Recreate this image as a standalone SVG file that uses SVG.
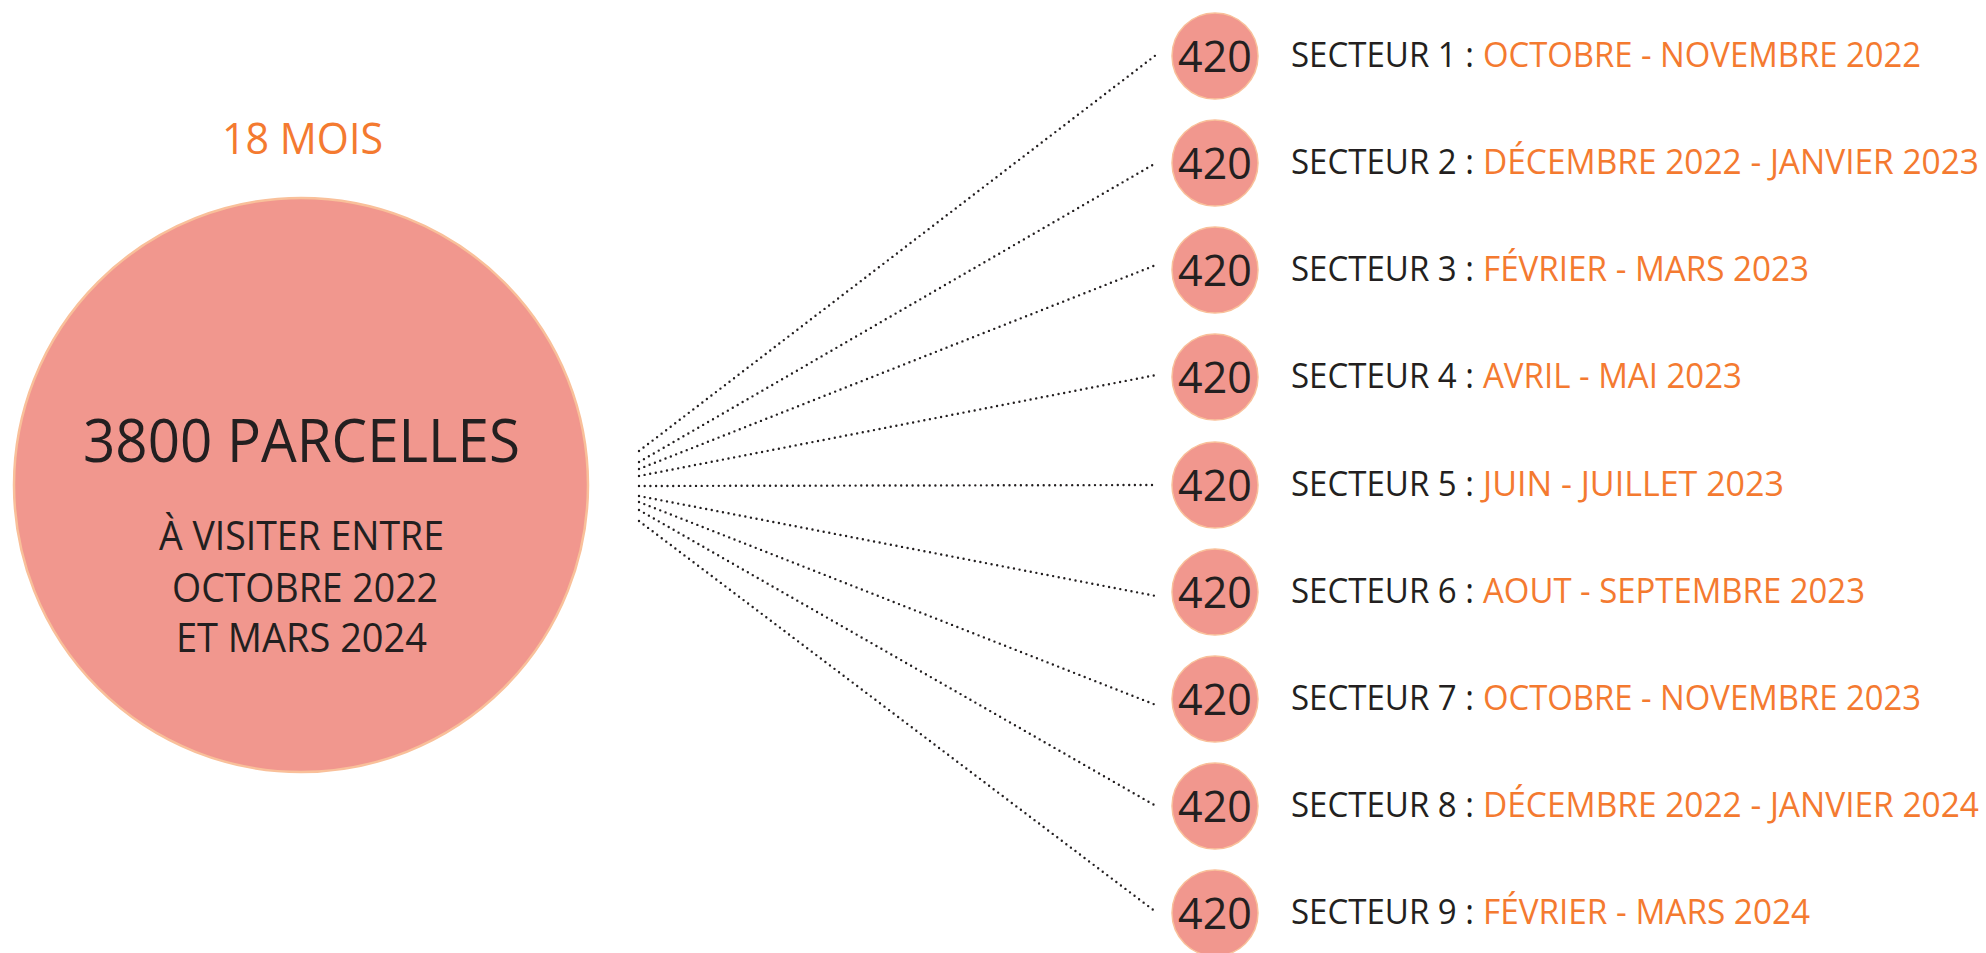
<svg xmlns="http://www.w3.org/2000/svg" width="1986" height="953" viewBox="0 0 1986 953">
<style>
.t{font-family:"Open Sans","Liberation Sans",sans-serif;}
.dk{fill:#231F20;}
.or{fill:#F47A30;}
.big{fill:#F1978E;stroke:#F9C09A;stroke-width:2.5;}
.sm{fill:#F1978E;stroke:#F9C09A;stroke-width:1.5;}
.dot{fill:none;stroke:#231F20;stroke-width:2.4;stroke-linecap:round;stroke-dasharray:0 5.7;}
.num{font-size:43px;text-anchor:middle;}
.lab{font-size:34px;}
</style>
<rect width="1986" height="953" fill="#FFFFFF"/>
<g id="connectors">
<line class="dot" x1="639" y1="451" x2="1156" y2="55"/>
<line class="dot" x1="639" y1="462" x2="1156" y2="163"/>
<line class="dot" x1="639" y1="469" x2="1156" y2="265"/>
<line class="dot" x1="639" y1="476" x2="1156" y2="375"/>
<line class="dot" x1="639" y1="486" x2="1156" y2="485"/>
<line class="dot" x1="639" y1="496" x2="1156" y2="596"/>
<line class="dot" x1="639" y1="502" x2="1156" y2="705"/>
<line class="dot" x1="639" y1="510" x2="1156" y2="806"/>
<line class="dot" x1="639" y1="521" x2="1156" y2="912"/>
</g>
<g id="main">
<text class="t or" x="222" y="154" font-size="44" textLength="161" lengthAdjust="spacingAndGlyphs">18 MOIS</text>
<circle class="big" cx="301" cy="485" r="287"/>
<text class="t dk" x="83" y="462" font-size="61" textLength="437" lengthAdjust="spacingAndGlyphs">3800 PARCELLES</text>
<text class="t dk" x="159" y="550" font-size="40" textLength="285" lengthAdjust="spacingAndGlyphs">À VISITER ENTRE</text>
<text class="t dk" x="172" y="602" font-size="40" textLength="266" lengthAdjust="spacingAndGlyphs">OCTOBRE 2022</text>
<text class="t dk" x="176" y="652" font-size="40" textLength="251" lengthAdjust="spacingAndGlyphs">ET MARS 2024</text>
</g>
<g id="s1"><circle class="sm" cx="1215" cy="56" r="43"/><text class="t dk num" x="1215" y="72">420</text><text class="t dk lab" x="1291" y="67" textLength="183" lengthAdjust="spacingAndGlyphs">SECTEUR 1 :</text><text class="t or lab" x="1483" y="67" textLength="438" lengthAdjust="spacingAndGlyphs">OCTOBRE - NOVEMBRE 2022</text></g>
<g id="s2"><circle class="sm" cx="1215" cy="163" r="43"/><text class="t dk num" x="1215" y="179">420</text><text class="t dk lab" x="1291" y="174" textLength="183" lengthAdjust="spacingAndGlyphs">SECTEUR 2 :</text><text class="t or lab" x="1483" y="174" textLength="496" lengthAdjust="spacingAndGlyphs">DÉCEMBRE 2022 - JANVIER 2023</text></g>
<g id="s3"><circle class="sm" cx="1215" cy="270" r="43"/><text class="t dk num" x="1215" y="286">420</text><text class="t dk lab" x="1291" y="281" textLength="183" lengthAdjust="spacingAndGlyphs">SECTEUR 3 :</text><text class="t or lab" x="1483" y="281" textLength="326" lengthAdjust="spacingAndGlyphs">FÉVRIER - MARS 2023</text></g>
<g id="s4"><circle class="sm" cx="1215" cy="377" r="43"/><text class="t dk num" x="1215" y="393">420</text><text class="t dk lab" x="1291" y="388" textLength="183" lengthAdjust="spacingAndGlyphs">SECTEUR 4 :</text><text class="t or lab" x="1483" y="388" textLength="259" lengthAdjust="spacingAndGlyphs">AVRIL - MAI 2023</text></g>
<g id="s5"><circle class="sm" cx="1215" cy="485" r="43"/><text class="t dk num" x="1215" y="501">420</text><text class="t dk lab" x="1291" y="496" textLength="183" lengthAdjust="spacingAndGlyphs">SECTEUR 5 :</text><text class="t or lab" x="1483" y="496" textLength="301" lengthAdjust="spacingAndGlyphs">JUIN - JUILLET 2023</text></g>
<g id="s6"><circle class="sm" cx="1215" cy="592" r="43"/><text class="t dk num" x="1215" y="608">420</text><text class="t dk lab" x="1291" y="603" textLength="183" lengthAdjust="spacingAndGlyphs">SECTEUR 6 :</text><text class="t or lab" x="1483" y="603" textLength="382" lengthAdjust="spacingAndGlyphs">AOUT - SEPTEMBRE 2023</text></g>
<g id="s7"><circle class="sm" cx="1215" cy="699" r="43"/><text class="t dk num" x="1215" y="715">420</text><text class="t dk lab" x="1291" y="710" textLength="183" lengthAdjust="spacingAndGlyphs">SECTEUR 7 :</text><text class="t or lab" x="1483" y="710" textLength="438" lengthAdjust="spacingAndGlyphs">OCTOBRE - NOVEMBRE 2023</text></g>
<g id="s8"><circle class="sm" cx="1215" cy="806" r="43"/><text class="t dk num" x="1215" y="822">420</text><text class="t dk lab" x="1291" y="817" textLength="183" lengthAdjust="spacingAndGlyphs">SECTEUR 8 :</text><text class="t or lab" x="1483" y="817" textLength="496" lengthAdjust="spacingAndGlyphs">DÉCEMBRE 2022 - JANVIER 2024</text></g>
<g id="s9"><circle class="sm" cx="1215" cy="913" r="43"/><text class="t dk num" x="1215" y="929">420</text><text class="t dk lab" x="1291" y="924" textLength="183" lengthAdjust="spacingAndGlyphs">SECTEUR 9 :</text><text class="t or lab" x="1483" y="924" textLength="327" lengthAdjust="spacingAndGlyphs">FÉVRIER - MARS 2024</text></g>
</svg>
